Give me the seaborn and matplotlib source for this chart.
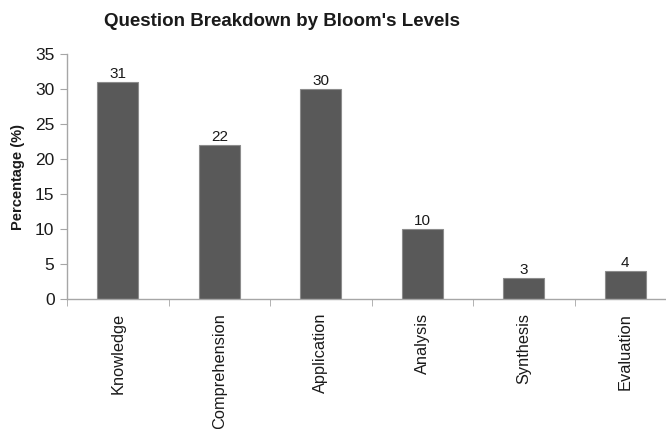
import matplotlib
matplotlib.use("Agg")
import matplotlib.pyplot as plt
import seaborn as sns
import numpy as np
import pandas as pd

levels = ["Knowledge", "Comprehension", "Application", "Analysis", "Synthesis", "Evaluation"]
percentages = [31, 22, 30, 10, 3, 4]
y_ticks = [0, 5, 10, 15, 20, 25, 30, 35]

sns.set_style("white")
plt.rcParams["font.family"] = ["Liberation Sans", "DejaVu Sans"]

df = pd.DataFrame({"level": levels, "pct": percentages})

fig = plt.figure(figsize=(6.66, 4.29), dpi=100)
ax = fig.add_axes([67 / 666, 130 / 429, 609 / 666, 245 / 429])

sns.barplot(data=df, x="level", y="pct", color="#595959", width=0.4,
            edgecolor="#8c8c8c", linewidth=0.8, saturation=1, ax=ax)

ax.set_xlim(-0.5, len(levels) - 0.5)
ax.set_ylim(0, 35)
ax.set_yticks(y_ticks)
ax.tick_params(axis="y", labelsize=12.5, length=5, color="#a6a6a6", pad=4,
               labelcolor="#1a1a1a", direction="out", left=True)

ax.set_xticks(range(len(levels)))
ax.set_xticklabels(levels, rotation=90, fontsize=11.8, color="#1a1a1a")
ax.tick_params(axis="x", which="major", length=0, pad=10)
ax.set_xticks(np.arange(-0.5, len(levels), 1.0), minor=True)
ax.tick_params(axis="x", which="minor", length=5, color="#a6a6a6",
               direction="out", bottom=True)

for side in ["top", "right"]:
    ax.spines[side].set_visible(False)
for side in ["left", "bottom"]:
    ax.spines[side].set_color("#a6a6a6")
    ax.spines[side].set_linewidth(1.0)

for bar, v in zip(ax.patches, percentages):
    ax.annotate(str(v), (bar.get_x() + bar.get_width() / 2, v),
                xytext=(0, 1), textcoords="offset points",
                ha="center", va="bottom", fontsize=11, color="#1a1a1a")

ax.set_xlabel("")
ax.set_ylabel("Percentage (%)", fontsize=10.5, fontweight="bold", color="#1a1a1a")
ax.yaxis.set_label_coords(-42 / 609, 0.5)

fig.text(282 / 666, 1 - 22 / 429, "Question Breakdown by Bloom's Levels",
         ha="center", va="center", fontsize=13.5, fontweight="bold",
         color="#1a1a1a")

fig.savefig("out.png", dpi=100)
